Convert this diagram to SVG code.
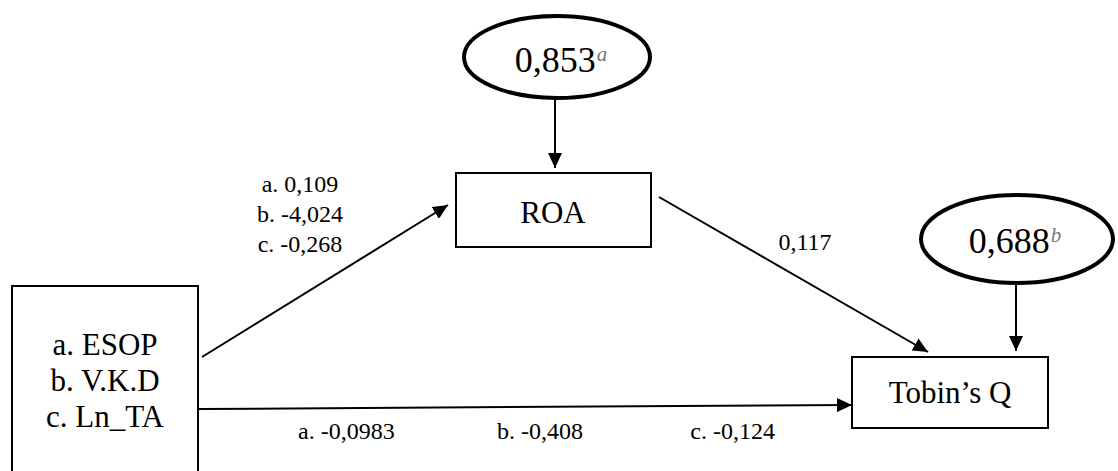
<svg xmlns="http://www.w3.org/2000/svg" width="1118" height="471" viewBox="0 0 1118 471">
<style>
.box{fill:#fff;stroke:#000;stroke-width:2}
.ell{fill:#fff;stroke:#000;stroke-width:4}
.node{font-family:"Liberation Serif","Times New Roman",serif;font-size:31px;fill:#000;text-anchor:middle}
.lbl{font-family:"Liberation Serif","Times New Roman",serif;font-size:24px;fill:#000}
.val{font-family:"Liberation Serif","Times New Roman",serif;font-size:36px;fill:#000;text-anchor:middle}
.sup{font-size:21px;font-style:italic;fill:#777}
.conn{stroke:#000;stroke-width:2;fill:none;marker-end:url(#ah)}
</style>
<defs>
<marker id="ah" markerUnits="userSpaceOnUse" markerWidth="16" markerHeight="14" refX="15" refY="7" orient="auto">
<path d="M0,0 L15,7 L0,14 z" fill="#000"/>
</marker>
</defs>
<rect width="1118" height="471" fill="#fff"/>
<g id="connectors">
<line class="conn" x1="555" y1="98" x2="555" y2="168"/>
<line class="conn" x1="1016" y1="283" x2="1016" y2="351"/>
<line class="conn" x1="202" y1="357" x2="448" y2="205"/>
<line class="conn" x1="659" y1="197" x2="928" y2="352"/>
<line class="conn" x1="198" y1="409" x2="852" y2="405"/>
</g>
<g id="err-roa">
<ellipse class="ell" cx="557" cy="57" rx="93" ry="41"/>
<text class="val" x="561" y="72">0,853<tspan class="sup" dx="1" dy="-11">a</tspan></text>
</g>
<g id="err-tobin">
<ellipse class="ell" cx="1017" cy="239" rx="96" ry="44"/>
<text class="val" x="1015" y="253">0,688<tspan class="sup" dx="1" dy="-11">b</tspan></text>
</g>
<g id="roa">
<rect class="box" x="456" y="173" width="195" height="74"/>
<text class="node" x="553" y="223">ROA</text>
</g>
<g id="tobin">
<rect class="box" x="852" y="357" width="196" height="71"/>
<text class="node" x="950" y="403">Tobin’s Q</text>
</g>
<g id="indep">
<rect class="box" x="12" y="286" width="186" height="200"/>
<text class="node" x="105" y="355">a. ESOP</text>
<text class="node" x="105" y="391">b. V.K.D</text>
<text class="node" x="105" y="427">c. Ln_TA</text>
</g>
<g id="labels">
<text class="lbl" x="300" y="192" text-anchor="middle">a. 0,109</text>
<text class="lbl" x="300" y="222" text-anchor="middle">b. -4,024</text>
<text class="lbl" x="300" y="252" text-anchor="middle">c. -0,268</text>
<text class="lbl" x="805" y="250" text-anchor="middle">0,117</text>
<text class="lbl" x="298" y="439">a. -0,0983</text>
<text class="lbl" x="540" y="439" text-anchor="middle">b. -0,408</text>
<text class="lbl" x="775" y="439" text-anchor="end">c. -0,124</text>
</g>
</svg>
